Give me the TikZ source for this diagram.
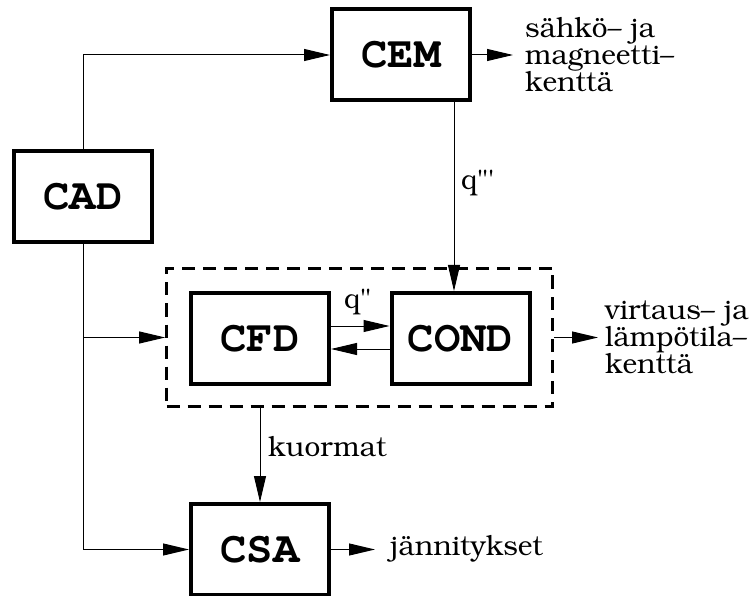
\documentclass[tikz,border=0pt]{standalone}
\usetikzlibrary{arrows.meta,calc}
\newcommand{\serifxt}{\fontencoding{T1}\fontfamily{pbk}\fontseries{l}\fontshape{n}\fontsize{28}{27}\selectfont}
\newcommand{\boxfnt}{\fontencoding{T1}\fontfamily{pcr}\fontseries{b}\fontshape{n}\fontsize{44}{44}\selectfont}
\begin{document}
\begin{tikzpicture}[x=1pt,y=-1pt,
  blk/.style={draw,line width=4pt,minimum width=138pt,minimum height=91pt,inner sep=0pt,
    font=\boxfnt},
  arr/.style={line width=1pt,-{Triangle[length=26pt,width=12pt]}},
  lbl/.style={inner sep=0pt,font=\serifxt,align=left},
  grpbox/.style={draw,line width=2.7pt,dash pattern=on 13pt off 8pt,minimum width=386pt,minimum height=138pt,inner sep=0pt}]
\useasboundingbox (0,0) rectangle (750,596);
\node[blk] (cad) at (83,196.5) {CAD};
\node[blk] (cem) at (401,55) {CEM};
\node[grpbox] (grp) at (359.5,337.5) {};
\node[blk] (cfd) at (260,338.5) {CFD};
\node[blk] (cond) at (460.5,338.5) {COND};
\node[blk] (csa) at (260,549.5) {CSA};
\coordinate (qx) at (454,0);
\coordinate (o1) at (513,55);
\coordinate (o2) at (598,337.5);
\coordinate (o3) at (375,549.5);
\draw[arr] (cad.north) |- (cem.west);
\draw[arr] (cem.east) -- (o1);
\node[lbl,anchor=west] (t1) at (525,55) {s\"ahk\"o-- ja\\magneetti--\\kentt\"a};
\draw[arr] (cem.south -| qx) -- (cond.north -| qx);
\node[lbl,anchor=west] (q3) at (461,183) {q\textquotedbl\textquotesingle};
\draw[arr] ([yshift=12.5pt]cfd.east) -- ([yshift=12.5pt]cond.west);
\draw[arr] ([yshift=-10.5pt]cond.west) -- ([yshift=-10.5pt]cfd.east);
\node[lbl,anchor=west] (q2) at (344,302) {q\textquotedbl};
\draw[arr] (cad.south) |- (csa.west);
\draw[arr] (cad.south |- grp.west) -- (grp.west);
\draw[arr] (grp.east) -- (o2);
\node[lbl,anchor=west] (t2) at (605,337.5) {virtaus-- ja\\l\"amp\"otila--\\kentt\"a};
\draw[arr] (grp.south -| csa.north) -- (csa.north);
\node[lbl,anchor=west] (t3) at (268,447) {kuormat};
\draw[arr] (csa.east) -- (o3);
\node[lbl,anchor=west] (t4) at (390,549.5) {j\"annitykset};
\end{tikzpicture}
\end{document}
